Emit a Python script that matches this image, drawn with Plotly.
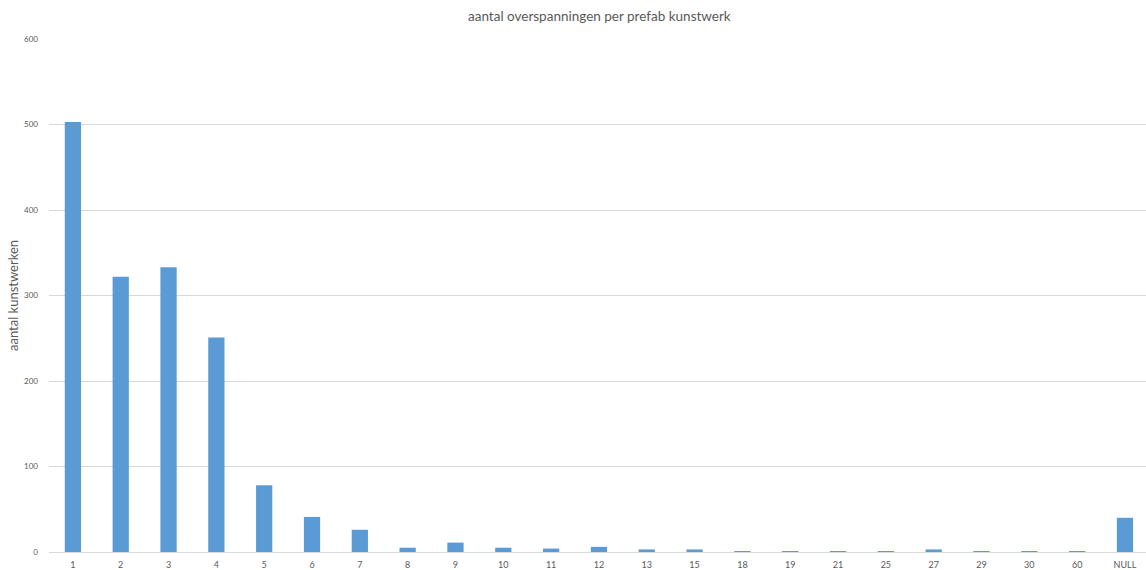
import plotly.graph_objects as go

categories = ["1", "2", "3", "4", "5", "6", "7", "8", "9", "10", "11", "12",
              "13", "15", "18", "19", "21", "25", "27", "29", "30", "60", "NULL"]
values = [503, 322, 333, 251, 78, 41, 26, 5, 11, 5, 4, 6,
          3, 3, 1, 1, 1, 1, 3, 1, 1, 1, 40]

title_text = "aantal overspanningen per prefab kunstwerk"
y_title = "aantal kunstwerken"
y_ticks = [0, 100, 200, 300, 400, 500, 600]

fig = go.Figure(go.Bar(
    x=categories, y=values,
    marker=dict(color="#5B9BD5", line=dict(width=0)),
    width=0.34,
))

fig.update_layout(
    width=1146, height=570,
    margin=dict(l=49, r=0, t=39, b=18),
    paper_bgcolor="white", plot_bgcolor="white",
    font=dict(family="Lato, Open Sans, sans-serif", color="#595959"),
    title=dict(text=title_text, x=0.523, xanchor="center", y=0.972, yanchor="middle",
               font=dict(size=13.5, color="#595959")),
    showlegend=False,
)
fig.update_xaxes(type="category", range=[-0.5, len(categories) - 0.56],
                 showgrid=False, showline=True, linecolor="#D9D9D9", linewidth=1,
                 ticks="", tickfont=dict(size=9, color="#595959"), ticklabelstandoff=4)
fig.update_yaxes(range=[0, 600], tickvals=y_ticks, showgrid=True, gridcolor="#D9D9D9",
                 gridwidth=1, zeroline=False, showline=False,
                 tickfont=dict(size=8, color="#595959"), ticks="", ticklabelstandoff=10,
                 title=dict(text=y_title, font=dict(size=13, color="#595959"), standoff=2))

fig.write_html("out.html")
